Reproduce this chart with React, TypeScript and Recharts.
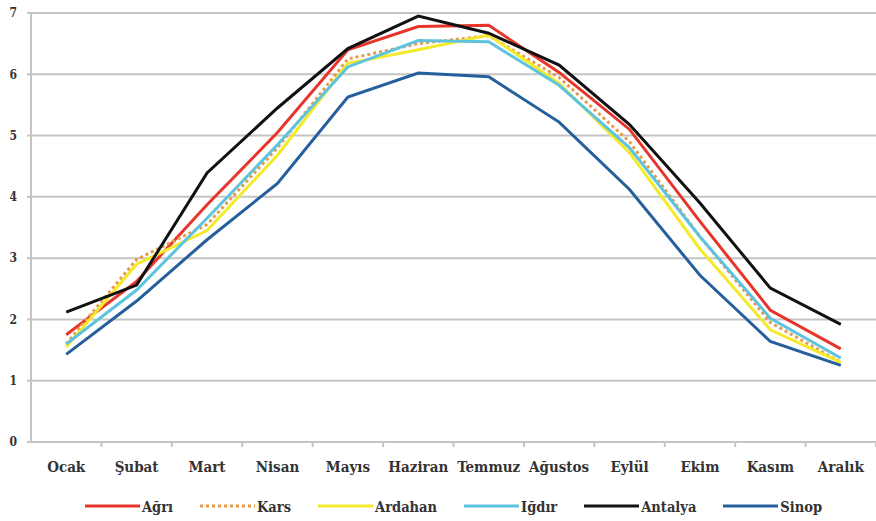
import { LineChart, Line, XAxis, YAxis, CartesianGrid, Legend } from "recharts";

const months = ["Ocak", "Şubat", "Mart", "Nisan", "Mayıs", "Haziran", "Temmuz", "Ağustos", "Eylül", "Ekim", "Kasım", "Aralık"];
const agri = [1.75, 2.62, 3.87, 5.05, 6.4, 6.78, 6.8, 6.03, 5.1, 3.6, 2.15, 1.52];
const kars = [1.6, 2.98, 3.55, 4.8, 6.25, 6.5, 6.63, 5.95, 4.9, 3.35, 1.95, 1.3];
const ardahan = [1.55, 2.9, 3.45, 4.68, 6.18, 6.4, 6.64, 5.85, 4.72, 3.15, 1.83, 1.3];
const igdir = [1.6, 2.48, 3.65, 4.85, 6.12, 6.55, 6.53, 5.82, 4.8, 3.35, 2.02, 1.37];
const antalya = [2.12, 2.56, 4.39, 5.45, 6.42, 6.95, 6.67, 6.15, 5.18, 3.9, 2.51, 1.92];
const sinop = [1.43, 2.3, 3.3, 4.22, 5.63, 6.02, 5.96, 5.22, 4.12, 2.72, 1.64, 1.25];
const yTicks = [0, 1, 2, 3, 4, 5, 6, 7];

const series = [
  { key: "Ağrı", values: agri, color: "#e8352b", dash: undefined },
  { key: "Kars", values: kars, color: "#e89a48", dash: "3 3" },
  { key: "Ardahan", values: ardahan, color: "#f4ea2a", dash: undefined },
  { key: "Iğdır", values: igdir, color: "#5ec3df", dash: undefined },
  { key: "Antalya", values: antalya, color: "#111111", dash: undefined },
  { key: "Sinop", values: sinop, color: "#255f9c", dash: undefined },
];

const data = months.map((m, i) => {
  const row: Record<string, number | string> = { month: m };
  series.forEach((s) => (row[s.key] = s.values[i]));
  return row;
});

const W = 876;
const H = 521;
const Y_W = 31;
const BAND = (W - Y_W) / months.length;
const FONT = "'DejaVu Serif Condensed', 'DejaVu Serif', serif";

// month label plus a small tick at the right edge of each band
function MonthTick({ x, y, payload }: any) {
  return (
    <g>
      <line x1={x + BAND / 2} x2={x + BAND / 2} y1={y - 8} y2={y - 3} stroke="#c4c4c4" strokeWidth={2} />
      <text x={x} y={y + 22} textAnchor="middle" fontFamily={FONT} fontWeight="bold" fontSize={15} fill="#333">
        {payload.value}
      </text>
    </g>
  );
}

function LegendRow() {
  return (
    <div
      style={{
        display: "flex",
        justifyContent: "center",
        alignItems: "center",
        gap: 27,
        width: W - Y_W,
        height: 30,
        fontFamily: FONT,
        fontWeight: "bold",
        fontSize: 14.5,
        color: "#333",
      }}
    >
      {series.map((s) => (
        <div key={s.key} style={{ display: "flex", alignItems: "center" }}>
          <svg width={55} height={8}>
            <line x1={0} x2={55} y1={4} y2={4} stroke={s.color} strokeWidth={3} strokeDasharray={s.dash} />
          </svg>
          <span style={{ marginLeft: 2 }}>{s.key}</span>
        </div>
      ))}
    </div>
  );
}

export default function App() {
  return (
    <div style={{ position: "absolute", left: 0, top: 0, background: "#fff" }}>
      <LineChart width={W} height={H} data={data} margin={{ top: 13, right: 0, bottom: 0, left: 0 }}>
        <CartesianGrid vertical={false} stroke="#c4c4c4" strokeWidth={2} />
        <XAxis
          dataKey="month"
          scale="band"
          interval={0}
          height={49}
          axisLine={{ stroke: "#c4c4c4", strokeWidth: 2 }}
          tickLine={false}
          tick={<MonthTick />}
        />
        <YAxis
          width={Y_W}
          domain={[0, 7]}
          ticks={yTicks}
          interval={0}
          axisLine={{ stroke: "#c4c4c4", strokeWidth: 2 }}
          tickLine={{ stroke: "#c4c4c4", strokeWidth: 2 }}
          tickSize={4}
          tickMargin={10}
          tick={{ fontFamily: FONT, fontWeight: "bold", fontSize: 12, fill: "#333" }}
        />
        <Legend
          verticalAlign="bottom"
          height={30}
          content={() => <LegendRow />}
          wrapperStyle={{ left: Y_W, width: W - Y_W }}
        />
        {series.map((s) => (
          <Line
            key={s.key}
            dataKey={s.key}
            type="linear"
            stroke={s.color}
            strokeWidth={3}
            strokeDasharray={s.dash}
            dot={false}
            isAnimationActive={false}
          />
        ))}
      </LineChart>
    </div>
  );
}
